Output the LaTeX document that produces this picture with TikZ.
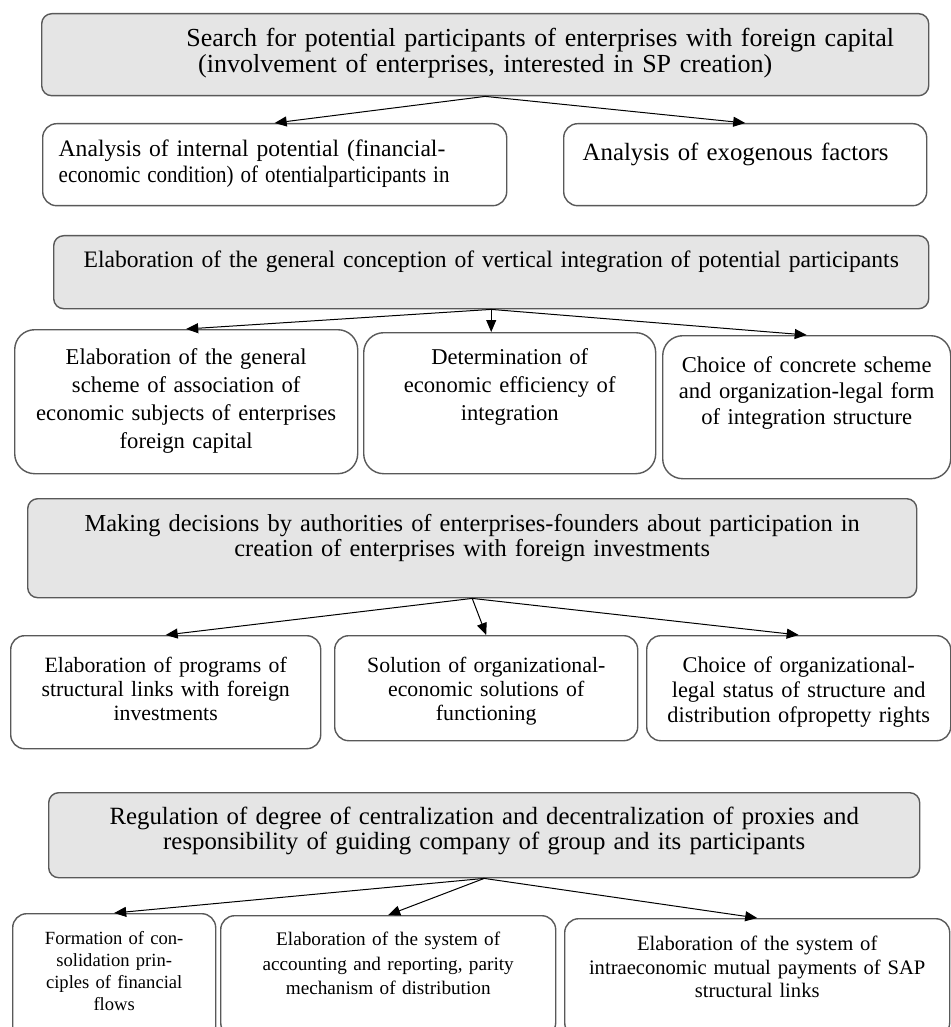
\documentclass[tikz,border=0pt]{standalone}
\usepackage{fontspec}
\usepackage{graphicx}
\setmainfont{Liberation Serif}
\usetikzlibrary{arrows.meta}
\begin{document}
\begin{tikzpicture}[x=0.5pt,y=-0.5pt,
  gbox/.style={draw=black!65,line width=0.7pt,fill=black!10,rounded corners=5pt,anchor=north west,inner ysep=0pt,inner xsep=3pt,align=center},
  wbox/.style={gbox,fill=white,rounded corners=7pt},
  arr/.style={-{Triangle[length=6pt,width=5pt]},line width=0.5pt}]
\useasboundingbox (0,0) rectangle (951,1027);
\node[gbox,text width=437.5pt,text height=16.5pt,text depth=24.5pt,font=\fontsize{13}{13}\selectfont] (b1) at (41,13) {\hspace*{55pt}Search for potential participants of enterprises with foreign capital\\(involvement of enterprises, interested in SP creation)};
\node[wbox,align=left,inner xsep=8pt,text width=216pt,text height=16.5pt,text depth=24.5pt,font=\fontsize{11.8}{13}\selectfont] (b2a) at (42,123) {Analysis of internal potential (financial-\\\scalebox{0.89}[1]{economic condition) of otentialparticipants in}};
\node[wbox,align=left,inner xsep=9.5pt,text width=162.5pt,text height=18.5pt,text depth=22.5pt,font=\fontsize{12.4}{13}\selectfont] (b2b) at (563,123) {Analysis of exogenous factors};
\node[gbox,text width=431.5pt,text height=16pt,text depth=20.5pt,font=\fontsize{11.8}{13}\selectfont] (b3) at (53,235) {Elaboration of the general conception of vertical integration of potential participants};
\node[wbox,rounded corners=10pt,text width=165.5pt,text height=17.5pt,text depth=54.5pt,font=\fontsize{11.3}{14}\selectfont] (b4a) at (14,329) {Elaboration of the general\\scheme of association of\\economic subjects of enterprises\\foreign capital};
\node[wbox,rounded corners=10pt,text width=140pt,text height=16pt,text depth=54.5pt,font=\fontsize{11.3}{14}\selectfont] (b4b) at (363,332) {Determination of\\economic efficiency of\\integration};
\node[wbox,rounded corners=10pt,text width=138pt,text height=18.5pt,text depth=53pt,font=\fontsize{11.3}{13}\selectfont] (b4c) at (662,335) {Choice of concrete scheme\\and organization-legal form\\of integration structure};
\node[gbox,text width=438.5pt,text height=16.5pt,text depth=33pt,font=\fontsize{12.2}{12.5}\selectfont] (b5) at (27,498) {Making decisions by authorities of enterprises-founders about participation in\\creation of enterprises with foreign investments};
\node[wbox,text width=149pt,text height=18.5pt,text depth=38pt,font=\fontsize{10.9}{12}\selectfont] (b6a) at (10,635) {Elaboration of programs of\\structural links with foreign\\investments};
\node[wbox,text width=145.5pt,text height=18.5pt,text depth=34pt,font=\fontsize{10.9}{12}\selectfont] (b6b) at (334,635) {Solution of organizational-\\economic solutions of\\functioning};
\node[wbox,text width=146pt,text height=18.5pt,text depth=34pt,font=\fontsize{11.2}{12.5}\selectfont] (b6c) at (646,635) {Choice of organizational-\\legal status of structure and\\distribution ofpropetty rights};
\node[gbox,text width=429.5pt,text height=16pt,text depth=26.5pt,font=\fontsize{12.4}{12.5}\selectfont] (b7) at (48,792) {Regulation of degree of centralization and decentralization of proxies and\\responsibility of guiding company of group and its participants};
\node[wbox,text width=95.5pt,text height=15.5pt,text depth=48pt,font=\fontsize{9.3}{11}\selectfont] (b8a) at (12,913) {Formation of con-\\solidation prin-\\ciples of financial\\flows};
\node[wbox,text width=161.5pt,text height=15pt,text depth=45.5pt,font=\fontsize{9.6}{12.3}\selectfont] (b8b) at (220,915) {Elaboration of the system of\\accounting and reporting, parity\\mechanism of distribution};
\node[wbox,text width=186.5pt,text height=16pt,text depth=43pt,font=\fontsize{10.3}{11.75}\selectfont] (b8c) at (564,918) {Elaboration of the system of\\intraeconomic mutual payments of SAP\\structural links};
\draw[arr] (b1.south) -- (b2a.north);
\draw[arr] (b1.south) -- (b2b.north);
\draw[arr] (b3.south) -- (b4a.north);
\draw[arr] (b3.south) -- (b3.south |- b4b.north);
\draw[arr] (b3.south) -- (b4c.north);
\draw[arr] (b5.south) -- (b6a.north);
\draw[arr] (b5.south) -- (b6b.north);
\draw[arr] (b5.south) -- (b6c.north);
\draw[arr] (b7.south) -- (b8a.north);
\draw[arr] (b7.south) -- (b8b.north);
\draw[arr] (b7.south) -- (b8c.north);
\end{tikzpicture}
\end{document}
